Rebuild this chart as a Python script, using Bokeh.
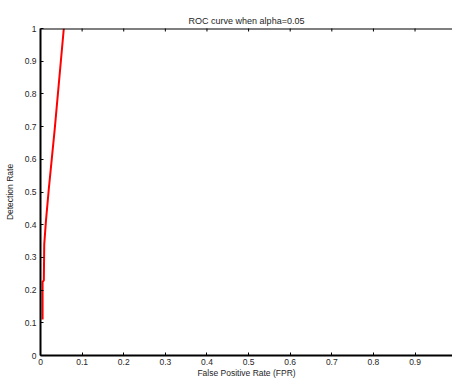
import math
from bokeh.plotting import figure
from bokeh.models import FixedTicker, Range1d, Span
from bokeh.embed import file_html
from bokeh.resources import INLINE

# data
fpr = [0.005, 0.005, 0.008, 0.009, 0.013, 0.020, 0.027, 0.034, 0.045, 0.056]
tpr = [0.11, 0.225, 0.23, 0.34, 0.41, 0.51, 0.60, 0.69, 0.845, 1.0]

x_ticks = [0, 0.1, 0.2, 0.3, 0.4, 0.5, 0.6, 0.7, 0.8, 0.9]
x_labels = ["0", "0.1", "0.2", "0.3", "0.4", "0.5", "0.6", "0.7", "0.8", "0.9"]
y_ticks = [0, 0.1, 0.2, 0.3, 0.4, 0.5, 0.6, 0.7, 0.8, 0.9, 1]
y_labels = ["0", "0.1", "0.2", "0.3", "0.4", "0.5", "0.6", "0.7", "0.8", "0.9", "1"]

title = "ROC curve when alpha=0.05"
x_title = "False Positive Rate (FPR)"
y_title = "Detection Rate"

FONT = "Liberation Sans"
TXT = "#262626"

p = figure(width=452, height=380, output_backend="svg", toolbar_location=None,
           x_range=Range1d(0, 0.99), y_range=Range1d(0, 1),
           min_border_left=40, min_border_right=0, min_border_top=28, min_border_bottom=23,
           title=title)
p.title.align = "center"
p.title.text_font = FONT
p.title.text_font_size = "9px"
p.title.text_font_style = "normal"
p.title.text_color = TXT
p.title.standoff = 6
p.title.offset = 0

p.xgrid.visible = False
p.ygrid.visible = False
p.outline_line_color = None
p.background_fill_color = "white"
p.border_fill_color = "white"

for ax in (p.xaxis[0], p.yaxis[0]):
    ax.axis_line_color = "black"
    ax.axis_line_width = 2
    ax.major_tick_line_color = "black"
    ax.major_tick_line_width = 1
    ax.major_tick_in = 3
    ax.major_tick_out = 0
    ax.minor_tick_line_color = None
    ax.major_label_text_font = FONT
    ax.major_label_text_font_size = "8.5px"
    ax.major_label_text_color = TXT
    ax.axis_label_text_font = FONT
    ax.axis_label_text_font_size = "8.5px"
    ax.axis_label_text_font_style = "normal"
    ax.axis_label_text_color = TXT

p.xaxis[0].ticker = FixedTicker(ticks=x_ticks)
p.xaxis[0].major_label_overrides = dict(zip(x_ticks, x_labels))
p.xaxis[0].axis_label = x_title
p.xaxis[0].major_label_standoff = 3
p.xaxis[0].axis_label_standoff = 0

p.yaxis[0].ticker = FixedTicker(ticks=y_ticks)
p.yaxis[0].major_label_overrides = dict(zip(y_ticks, y_labels))
p.yaxis[0].axis_label = y_title
p.yaxis[0].major_label_standoff = 4
p.yaxis[0].axis_label_standoff = 7

# top box line with inward ticks (MATLAB style)
p.add_layout(Span(location=1, dimension="width", line_color="black", line_width=2))
p.scatter(x_ticks[1:], [1] * (len(x_ticks) - 1), marker="dash", angle=math.pi / 2,
          size=6, line_color="black", line_width=1)

p.line(fpr, tpr, line_color="#ff0000", line_width=2)

open("out.html", "w").write(file_html(p, INLINE))
